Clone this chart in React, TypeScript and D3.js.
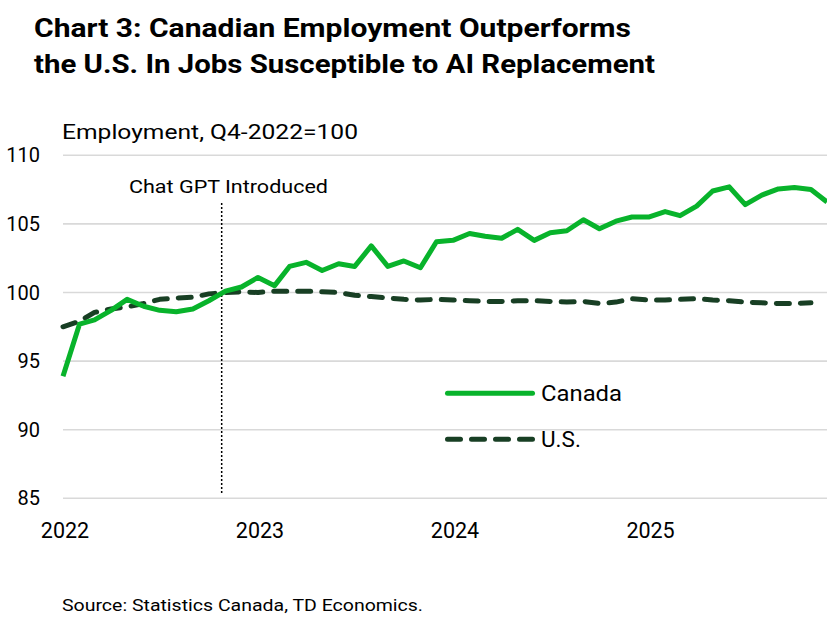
import { useEffect } from "react";
import * as d3 from "d3";

// monthly, Jan 2022 onward (Q4-2022 = 100)
const START_MONTH = new Date(2022, 0, 1);
const END_MONTH = new Date(2025, 11, 1);

const CANADA = [
  93.9, 97.7, 98.0, 98.7, 99.5, 99.0, 98.7, 98.6, 98.8, 99.4, 100.1, 100.4,
  101.1, 100.5, 101.9, 102.2, 101.6, 102.1, 101.9, 103.4, 101.9, 102.3, 101.8, 103.7,
  103.8, 104.3, 104.1, 103.95, 104.6, 103.8, 104.35, 104.5, 105.3, 104.65, 105.2, 105.5,
  105.5, 105.9, 105.6, 106.3, 107.4, 107.7, 106.4, 107.1, 107.55, 107.65, 107.5, 106.6,
];

const US = [
  97.5, 97.9, 98.55, 98.8, 98.95, 99.2, 99.5, 99.6, 99.65, 99.9, 100.0, 100.05,
  100.0, 100.1, 100.1, 100.1, 100.05, 100.0, 99.8, 99.7, 99.6, 99.5, 99.45, 99.5,
  99.45, 99.4, 99.35, 99.35, 99.4, 99.4, 99.35, 99.3, 99.35, 99.2, 99.3, 99.55,
  99.45, 99.45, 99.5, 99.55, 99.45, 99.4, 99.3, 99.25, 99.2, 99.2, 99.25,
];

const Y_TICKS = [85, 90, 95, 100, 105, 110];
const X_TICKS = [new Date(2022, 0, 1), new Date(2023, 0, 1), new Date(2024, 0, 1), new Date(2025, 0, 1)];
const CHATGPT_DATE = new Date(2022, 9, 25);

const TITLE = ["Chart 3: Canadian Employment Outperforms", "the U.S. In Jobs Susceptible to AI Replacement"];
const Y_LABEL = "Employment, Q4-2022=100";
const SOURCE = "Source: Statistics Canada, TD Economics.";

const CANADA_COLOR = "#08b32b";
const US_COLOR = "#183f24";
const FONT = "Roboto, 'DejaVu Sans', sans-serif";

type Pt = { date: Date; value: number };

const toPoints = (vals: number[]): Pt[] =>
  vals.map((v, i) => ({ date: d3.timeMonth.offset(START_MONTH, i), value: v }));

export default function App() {
  useEffect(() => {
    document.body.style.margin = "0";
  }, []);

  const W = 827;
  const H = 617;
  const left = 63;
  const right = 827;

  const x = d3.scaleTime().domain([START_MONTH, END_MONTH]).range([left, right]);
  const y = d3.scaleLinear().domain([85, 110]).range([498.3, 155.3]);

  const line = d3.line<Pt>().x((d) => x(d.date)).y((d) => y(d.value));
  const canadaPath = line(toPoints(CANADA)) ?? "";
  const usPath = line(toPoints(US)) ?? "";

  const gptX = x(CHATGPT_DATE);

  return (
    <svg width={W} height={H} style={{ display: "block", background: "#fff" }} fontFamily={FONT}>
      {/* title */}
      <text x={34} y={37} fontSize={25} fontWeight={700} fill="#000" textLength={597} lengthAdjust="spacingAndGlyphs">
        {TITLE[0]}
      </text>
      <text x={34} y={73} fontSize={25} fontWeight={700} fill="#000" textLength={621} lengthAdjust="spacingAndGlyphs">
        {TITLE[1]}
      </text>

      <text x={62} y={139} fontSize={21} fill="#000" textLength={296} lengthAdjust="spacingAndGlyphs">
        {Y_LABEL}
      </text>

      {/* grid + y labels */}
      {Y_TICKS.map((t) => (
        <g key={t}>
          <line x1={left} x2={right} y1={y(t)} y2={y(t)} stroke="#d9d9d9" strokeWidth={1.6} />
          <text x={40} y={y(t) + 7} fontSize={20} textAnchor="end" fill="#000">
            {t}
          </text>
        </g>
      ))}

      {/* x labels */}
      {X_TICKS.map((t) => (
        <text key={t.getFullYear()} x={x(t) + 2} y={538} fontSize={21.5} textAnchor="middle" fill="#000">
          {d3.timeFormat("%Y")(t)}
        </text>
      ))}

      {/* ChatGPT marker */}
      <line x1={gptX} x2={gptX} y1={203} y2={493} stroke="#000" strokeWidth={1.5} strokeDasharray="2 2" />
      <text x={129} y={193} fontSize={18} fill="#000" textLength={199} lengthAdjust="spacingAndGlyphs">
        Chat GPT Introduced
      </text>

      {/* series */}
      <path d={usPath} fill="none" stroke={US_COLOR} strokeWidth={5} strokeDasharray="13 11" strokeLinecap="round" strokeLinejoin="round" />
      <path d={canadaPath} fill="none" stroke={CANADA_COLOR} strokeWidth={5} strokeLinejoin="round" />

      {/* legend */}
      <line x1={447.5} x2={532.5} y1={393.3} y2={393.3} stroke={CANADA_COLOR} strokeWidth={5} strokeLinecap="round" />
      <text x={541} y={401} fontSize={22.5} fill="#000" textLength={81} lengthAdjust="spacingAndGlyphs">Canada</text>
      <line x1={447.5} x2={532.5} y1={439.3} y2={439.3} stroke={US_COLOR} strokeWidth={5} strokeDasharray="13 11" strokeLinecap="round" />
      <text x={541} y={447} fontSize={22.5} fill="#000">U.S.</text>

      <text x={62} y={611} fontSize={16} fill="#000" textLength={361} lengthAdjust="spacingAndGlyphs">
        {SOURCE}
      </text>
    </svg>
  );
}
